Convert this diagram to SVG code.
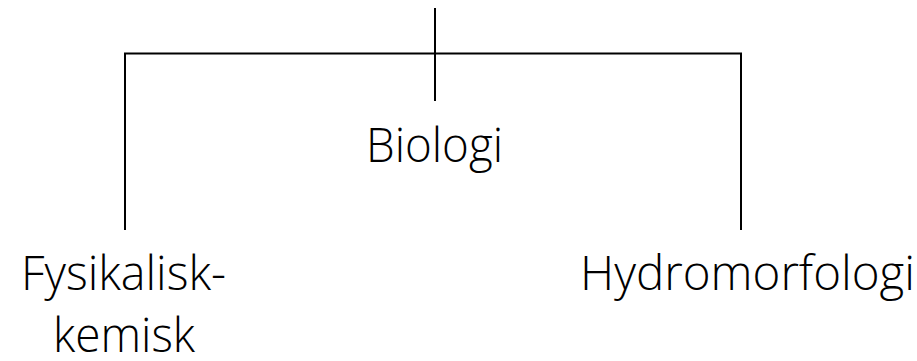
<svg xmlns="http://www.w3.org/2000/svg" width="917" height="361" viewBox="0 0 917 361">
<style>
.t{font-family:"Open Sans","Liberation Sans",sans-serif;font-weight:300;font-size:48px;fill:#000}
.c{stroke:#000;stroke-width:2;fill:none}
</style>
<rect width="917" height="361" fill="#fff"/>
<g id="connectors">
<path class="c" d="M435,8V101"/>
<path class="c" d="M125,230V53.5H741V230"/>
</g>
<g id="biologi"><text class="t" x="366" y="162" textLength="137" lengthAdjust="spacingAndGlyphs">Biologi</text></g>
<g id="fysikalisk"><text class="t" x="21" y="290" textLength="205" lengthAdjust="spacingAndGlyphs">Fysikalisk-</text><text class="t" x="53" y="352" textLength="142" lengthAdjust="spacingAndGlyphs">kemisk</text></g>
<g id="hydromorfologi"><text class="t" x="580" y="290" textLength="335" lengthAdjust="spacingAndGlyphs">Hydromorfologi</text></g>
</svg>
